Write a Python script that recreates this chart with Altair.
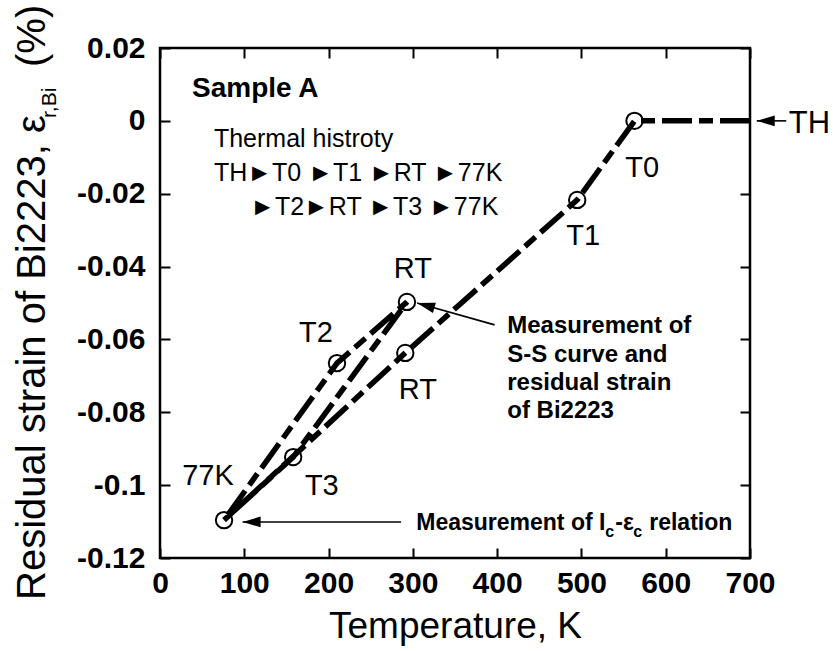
import math
import altair as alt
import pandas as pd

# ---------------- data ----------------
# thermal-history path: TH -> T0 -> T1 -> RT -> 77K -> T2 -> RT -> T3 -> 77K
path_temp = [700, 563, 495, 291, 76, 210, 293, 158, 76]
path_strain = [0.0, 0.0, -0.0217, -0.0637, -0.1096, -0.0665, -0.0497, -0.0923, -0.1096]
path_step = [0, 1, 2, 3, 4, 5, 6, 7, 8]

# measured states (open circles)
point_temp = [563, 495, 293, 291, 210, 158, 76]
point_strain = [0.0, -0.0217, -0.0497, -0.0637, -0.0665, -0.0923, -0.1096]

# state labels
label_text = ["T0", "T1", "RT", "RT", "T2", "T3", "77K"]
label_temp = [572, 502, 300, 306, 185, 192, 57]
label_strain = [-0.0154, -0.0341, -0.0431, -0.0763, -0.0607, -0.1027, -0.1000]

x_ticks = [0, 100, 200, 300, 400, 500, 600, 700]
y_ticks = [0.02, 0.0, -0.02, -0.04, -0.06, -0.08, -0.10, -0.12]

# annotation texts
sample_text = ["Sample A"]
history_text = ["Thermal histroty", "TH\u25baT0 \u25baT1 \u25baRT \u25ba77K", "\u25baT2\u25baRT \u25baT3 \u25ba77K"]
history_temp = [64, 64, 107]
history_strain = [-0.0072, -0.0165, -0.0258]
ss_text = ["Measurement of", "S-S curve and", "residual strain", "of Bi2223"]
ss_temp = [412, 412, 412, 412]
ss_strain = [-0.0582, -0.0662, -0.0739, -0.0816]

# arrows (tail -> tip)
arrow_tail_t = [743, 397, 286]
arrow_tail_s = [0.0, -0.0560, -0.1101]
arrow_tip_t = [708, 305, 98]
arrow_tip_s = [0.0, -0.0500, -0.1101]

X_DOMAIN = [0, 700]
Y_DOMAIN = [-0.12, 0.02]
W, H = 590, 510
FONT = "Liberation Sans"

xs = alt.Scale(domain=X_DOMAIN, nice=False, zero=False)
ys = alt.Scale(domain=Y_DOMAIN, nice=False, zero=False)


def enc(xf="t", yf="s"):
    return dict(
        x=alt.X(f"{xf}:Q", scale=xs, axis=None),
        y=alt.Y(f"{yf}:Q", scale=ys, axis=None),
    )


x_axis = alt.Axis(
    values=x_ticks, orient="bottom", offset=-10, tickSize=10, tickWidth=2,
    tickColor="black", domain=False, grid=False, labelFont=FONT,
    labelFontSize=30, labelFontWeight="bold", labelColor="black",
    labelPadding=10, labelFlush=False, labelOverlap=False,
    title="Temperature, K", titleFont=FONT, titleFontSize=37,
    titleFontWeight="normal", titleColor="black", titleY=89,
    titleBaseline="alphabetic",
)
y_axis = alt.Axis(
    values=y_ticks, orient="left", offset=-10, tickSize=10, tickWidth=2,
    tickColor="black", domain=False, grid=False, labelFont=FONT,
    labelFontSize=30, labelFontWeight="bold", labelColor="black",
    labelPadding=15, labelFlush=False, labelOverlap=False,
    labelExpr="datum.value == 0 ? '0' : '' + (round(datum.value * 100) / 100)",
    title=None,
)

path_df = pd.DataFrame({"t": path_temp, "s": path_strain, "step": path_step})
line = alt.Chart(path_df).mark_line(
    color="black", strokeWidth=5.5, strokeDash=[30, 7, 14, 7], strokeCap="butt"
).encode(
    x=alt.X("t:Q", scale=xs, axis=x_axis),
    y=alt.Y("s:Q", scale=ys, axis=y_axis),
    order="step:Q",
)

pts_df = pd.DataFrame({"t": point_temp, "s": point_strain})
circles = alt.Chart(pts_df).mark_point(
    shape="circle", filled=False, size=270, strokeWidth=2, color="black", opacity=1
).encode(**enc())

mirror = alt.Chart(pts_df).mark_point(opacity=0).encode(
    x=alt.X("t:Q", scale=xs, axis=alt.Axis(
        values=x_ticks, orient="top", offset=-10, tickSize=10, tickWidth=2,
        tickColor="black", domain=False, grid=False, labels=False, title=None)),
    y=alt.Y("s:Q", scale=ys, axis=alt.Axis(
        values=y_ticks, orient="right", offset=-10, tickSize=10, tickWidth=2,
        tickColor="black", domain=False, grid=False, labels=False, title=None)),
)

lab_df = pd.DataFrame({"t": label_temp, "s": label_strain, "txt": label_text})
labels = alt.Chart(lab_df).mark_text(
    font=FONT, fontSize=29, align="center", baseline="alphabetic", color="black"
).encode(**enc(), text="txt:N")

sample = alt.Chart(pd.DataFrame({"t": [38], "s": [0.0066], "txt": sample_text})).mark_text(
    font=FONT, fontSize=28, fontWeight="bold", align="left", baseline="alphabetic", color="black"
).encode(**enc(), text="txt:N")

history = alt.Chart(pd.DataFrame({"t": history_temp, "s": history_strain, "txt": history_text})).mark_text(
    font=FONT, fontSize=25, align="left", baseline="alphabetic", color="black"
).encode(**enc(), text="txt:N")

th = alt.Chart(pd.DataFrame({"t": [746], "s": [-0.0033], "txt": ["TH"]})).mark_text(
    font=FONT, fontSize=31, align="left", baseline="alphabetic", color="black"
).encode(**enc(), text="txt:N")

ss = alt.Chart(pd.DataFrame({"t": ss_temp, "s": ss_strain, "txt": ss_text})).mark_text(
    font=FONT, fontSize=24, fontWeight="bold", align="left", baseline="alphabetic", color="black"
).encode(**enc(), text="txt:N")

# "Measurement of Ic-εc relation" with subscripts
ic_parts = [("Measurement of I", 23, 0, 0, "bold"), ("c", 16, 189, 7, "bold"),
            ("-\u03b5", 23, 199, 0, "bold"), ("c", 16, 217, 7, "bold"),
            ("relation", 23, 233, 0, "bold")]
ic_layers = []
for txt, fs, dx, dy, fw in ic_parts:
    ic_layers.append(
        alt.Chart(pd.DataFrame({"t": [304], "s": [-0.1124], "txt": [txt]})).mark_text(
            font=FONT, fontSize=fs, fontWeight=fw, align="left", baseline="alphabetic",
            color="black", dx=dx, dy=dy,
        ).encode(**enc(), text="txt:N")
    )

# arrows
arr_df = pd.DataFrame({"t": arrow_tail_t, "s": arrow_tail_s, "t2": arrow_tip_t, "s2": arrow_tip_s})
px_t = W / (X_DOMAIN[1] - X_DOMAIN[0])
px_s = H / (Y_DOMAIN[1] - Y_DOMAIN[0])
angles = []
for a, b, c, d in zip(arrow_tail_t, arrow_tail_s, arrow_tip_t, arrow_tip_s):
    dxp = (c - a) * px_t
    dyp = -(d - b) * px_s
    angles.append(math.degrees(math.atan2(-dyp, -dxp)) % 360)
arr_df["a"] = angles
arrow_lines = alt.Chart(arr_df).mark_rule(color="black", strokeWidth=1.6).encode(
    x=alt.X("t:Q", scale=xs, axis=None), y=alt.Y("s:Q", scale=ys, axis=None),
    x2="t2:Q", y2="s2:Q",
)
arrow_heads = alt.Chart(arr_df).mark_point(
    shape="M0,0L2,-0.6L2,0.6Z", filled=True, size=324, color="black", opacity=1
).encode(
    x=alt.X("t2:Q", scale=xs, axis=None), y=alt.Y("s2:Q", scale=ys, axis=None),
    angle=alt.Angle("a:Q", scale=None),
)

# y-axis title with subscript (rotated)
one = pd.DataFrame({"k": [0]})
ytitle_main = alt.Chart(one).mark_text(
    text="Residual strain of Bi2223, \u03b5", font=FONT, fontSize=40, angle=270,
    align="left", baseline="alphabetic", color="black",
).encode(x=alt.value(-115), y=alt.value(552))
ytitle_sub = alt.Chart(one).mark_text(
    text="r,Bi", font=FONT, fontSize=21, angle=270,
    align="left", baseline="alphabetic", color="black",
).encode(x=alt.value(-104), y=alt.value(70))
ytitle_pct = alt.Chart(one).mark_text(
    text="(%)", font=FONT, fontSize=40, angle=270,
    align="left", baseline="alphabetic", color="black",
).encode(x=alt.value(-115), y=alt.value(19))

chart = alt.layer(
    line, circles, labels, sample, history, th, ss, *ic_layers,
    arrow_lines, arrow_heads, ytitle_main, ytitle_sub, ytitle_pct, mirror,
).resolve_axis(x="independent", y="independent").properties(
    width=W, height=H,
    autosize=alt.AutoSizeParams(type="none"),
    padding={"left": 160, "top": 48, "right": 83, "bottom": 93},
    background="white",
).configure_view(stroke="black", strokeWidth=2.5)

chart.save("out.html", embed_options={"renderer": "svg", "actions": False})
